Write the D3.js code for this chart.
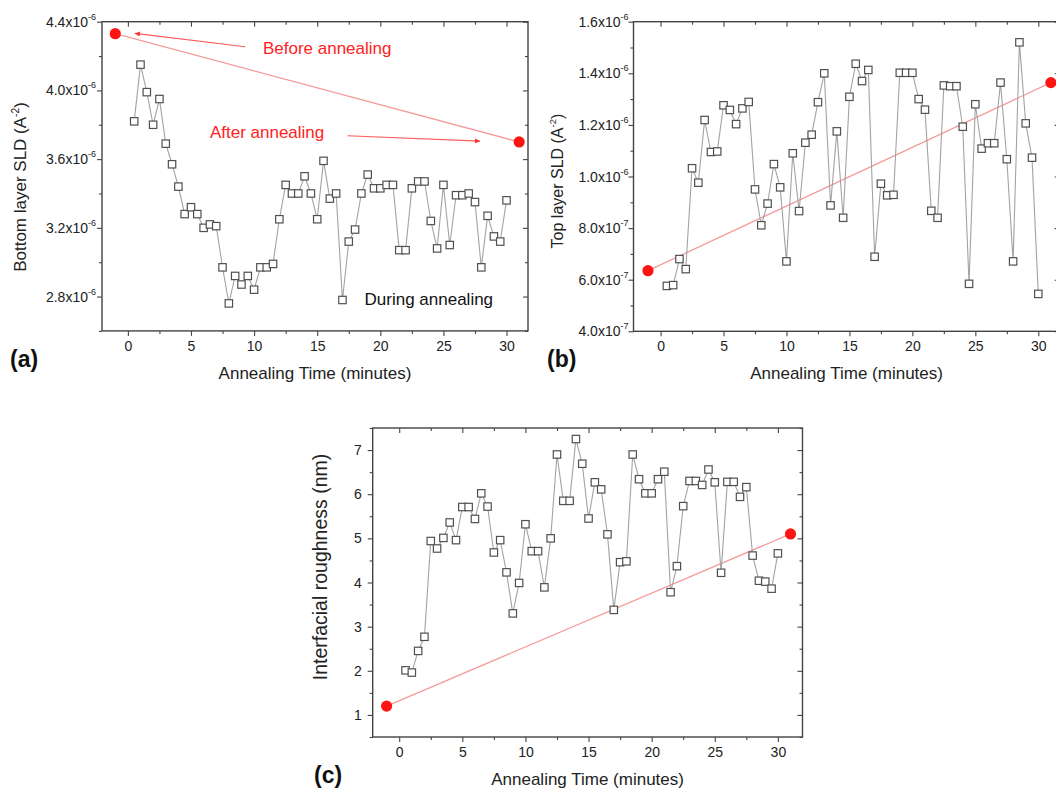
<!DOCTYPE html>
<html><head><meta charset="utf-8">
<script src="https://cdn.jsdelivr.net/npm/d3@7"></script>
<style>
body{margin:0;background:#fff}
svg{display:block}
text{font-family:"Liberation Sans",Arial,Helvetica,sans-serif}
</style>
</head><body>
<svg id="chart" width="1056" height="788"></svg>
<script>
// ---------------- DATA ----------------
const times = [0.5,1,1.5,2,2.5,3,3.5,4,4.5,5,5.5,6,6.5,7,7.5,8,8.5,9,9.5,10,
  10.5,11,11.5,12,12.5,13,13.5,14,14.5,15,15.5,16,16.5,17,17.5,18,18.5,19,19.5,20,
  20.5,21,21.5,22,22.5,23,23.5,24,24.5,25,25.5,26,26.5,27,27.5,28,28.5,29,29.5,30];
const endTimes = [-1, 31]; // before annealing, after annealing

// (a) bottom layer SLD, in units of 1e-6 A^-2
const bottomSLD = [3.82,4.15,3.99,3.80,3.95,3.69,3.57,3.44,3.28,3.32,
  3.28,3.20,3.22,3.21,2.97,2.76,2.92,2.87,2.92,2.84,
  2.97,2.97,2.99,3.25,3.45,3.40,3.40,3.50,3.40,3.25,
  3.59,3.37,3.40,2.78,3.12,3.19,3.40,3.51,3.43,3.43,
  3.45,3.45,3.07,3.07,3.43,3.47,3.47,3.24,3.08,3.45,
  3.10,3.39,3.39,3.40,3.35,2.97,3.27,3.15,3.12,3.36];
const bottomSLDEnds = [4.33, 3.70];

// (b) top layer SLD, in units of 1e-7 A^-2
const topSLD = [5.76,5.79,6.80,6.41,10.32,9.76,12.19,10.95,10.97,12.76,
  12.58,12.03,12.64,12.89,9.50,8.11,8.95,10.48,9.58,6.71,
  10.90,8.66,11.31,11.62,12.88,14.00,8.88,11.75,8.40,13.09,
  14.37,13.70,14.13,6.89,9.72,9.27,9.29,14.02,14.02,14.02,
  13.00,12.59,8.67,8.40,13.53,13.50,13.50,11.93,5.84,12.80,
  11.08,11.29,11.29,13.64,10.67,6.71,15.20,12.06,10.73,5.45];
const topSLDEnds = [6.35, 13.64];

// (c) interfacial roughness, nm
const roughness = [2.01,1.96,2.45,2.77,4.94,4.77,5.01,5.36,4.96,5.71,
  5.71,5.44,6.02,5.72,4.68,4.96,4.23,3.30,3.99,5.32,
  4.71,4.71,3.89,5.00,6.90,5.85,5.85,7.25,6.69,5.45,
  6.27,6.11,5.09,3.38,4.46,4.48,6.90,6.34,6.02,6.02,
  6.34,6.51,3.78,4.37,5.73,6.30,6.30,6.21,6.56,6.27,
  4.22,6.28,6.28,5.94,6.16,4.61,4.04,4.02,3.86,4.66];
const roughnessEnds = [1.2, 5.1];

// ticks
const xTicks = [0,5,10,15,20,25,30];
const xMinor = [2.5,7.5,12.5,17.5,22.5,27.5];
const aYTicks = [2.8,3.2,3.6,4.0,4.4];
const aYMinor = [2.6,3.0,3.4,3.8,4.2];
const aYLabels = ["2.8x10","3.2x10","3.6x10","4.0x10","4.4x10"];
const aYExps = ["-6","-6","-6","-6","-6"];
const bYTicks = [4,6,8,10,12,14,16];
const bYMinor = [5,7,9,11,13,15];
const bYLabels = ["4.0x10","6.0x10","8.0x10","1.0x10","1.2x10","1.4x10","1.6x10"];
const bYExps = ["-7","-7","-7","-6","-6","-6","-6"];
const cYTicks = [1,2,3,4,5,6,7];
const cYMinor = [0.5,1.5,2.5,3.5,4.5,5.5,6.5,7.5];
const cYLabels = ["1","2","3","4","5","6","7"];

// ---------------- DRAW ----------------
const svg = d3.select("#chart");
const AX = "#444";
const PINK = "#f59a9a";
const RED = "#ff1414";

function styleTicks(sel){
  sel.select(".domain").remove();
  sel.selectAll(".tick line").attr("stroke", AX).attr("stroke-width", 1.1);
}

function drawPanel(cfg){
  const b = cfg.box;
  const x = d3.scaleLinear().domain(cfg.xDomain).range([b.l, b.r]);
  const y = d3.scaleLinear().domain(cfg.yDomain).range([b.b, b.t]);
  const g = svg.append("g");

  // bottom axis with labels
  const bot = g.append("g").attr("transform", `translate(0,${b.b})`)
    .call(d3.axisBottom(x).tickValues(xTicks).tickSize(5).tickPadding(5).tickFormat(d3.format("d")));
  styleTicks(bot);
  bot.selectAll("text").attr("font-size", 14).attr("fill", "#222").style("font-family", "Liberation Sans, Arial, sans-serif");
  styleTicks(g.append("g").attr("transform", `translate(0,${b.b})`)
    .call(d3.axisBottom(x).tickValues(xMinor).tickSize(3).tickFormat("")));
  // top mirror (inward)
  styleTicks(g.append("g").attr("transform", `translate(0,${b.t})`)
    .call(d3.axisBottom(x).tickValues(xTicks).tickSize(5).tickFormat("")));
  styleTicks(g.append("g").attr("transform", `translate(0,${b.t})`)
    .call(d3.axisBottom(x).tickValues(xMinor).tickSize(3).tickFormat("")));
  // left
  styleTicks(g.append("g").attr("transform", `translate(${b.l},0)`)
    .call(d3.axisLeft(y).tickValues(cfg.yTicks).tickSize(5).tickFormat("")));
  styleTicks(g.append("g").attr("transform", `translate(${b.l},0)`)
    .call(d3.axisLeft(y).tickValues(cfg.yMinor).tickSize(3).tickFormat("")));
  // right mirror (inward)
  styleTicks(g.append("g").attr("transform", `translate(${b.r},0)`)
    .call(d3.axisLeft(y).tickValues(cfg.yTicks).tickSize(5).tickFormat("")));
  styleTicks(g.append("g").attr("transform", `translate(${b.r},0)`)
    .call(d3.axisLeft(y).tickValues(cfg.yMinor).tickSize(3).tickFormat("")));

  // frame
  g.append("rect").attr("x", b.l).attr("y", b.t).attr("width", b.r - b.l).attr("height", b.b - b.t)
    .attr("fill", "none").attr("stroke", AX).attr("stroke-width", 1.4);

  // y tick labels
  cfg.yTicks.forEach((v, i) => {
    const t = g.append("text").attr("x", b.l - cfg.yLabelGap).attr("y", y(v) + 5)
      .attr("text-anchor", "end").attr("font-size", 14).attr("fill", "#222");
    t.append("tspan").text(cfg.yLabels[i]);
    if (cfg.yExps) t.append("tspan").attr("font-size", 9).attr("dy", -7).text(cfg.yExps[i]);
  });

  // y title
  const yt = g.append("text")
    .attr("transform", `translate(${cfg.yTitlePos[0]},${cfg.yTitlePos[1]}) rotate(-90)`)
    .attr("text-anchor", "middle").attr("font-size", cfg.yTitleSize).attr("fill", "#222");
  yt.append("tspan").text(cfg.yTitle[0]);
  if (cfg.yTitle.length > 1) {
    yt.append("tspan").attr("font-size", cfg.yTitleSize * 0.6).attr("dy", -7).text(cfg.yTitle[1]);
    yt.append("tspan").attr("dy", 7).text(cfg.yTitle[2]);
  }
  // x title
  g.append("text").attr("x", (b.l + b.r) / 2).attr("y", b.b + 48)
    .attr("text-anchor", "middle").attr("font-size", 17).attr("fill", "#222")
    .text("Annealing Time (minutes)");
  // panel label
  g.append("text").attr("x", cfg.labelPos[0]).attr("y", cfg.labelPos[1])
    .attr("font-size", 23).attr("font-weight", "bold").attr("fill", "#111").text(cfg.label);

  // before/after connector
  const endsPts = endTimes.map((t, i) => [t, cfg.ends[i]]);
  g.append("path").datum(endsPts)
    .attr("d", d3.line().x(d => x(d[0])).y(d => y(d[1])))
    .attr("fill", "none").attr("stroke", PINK).attr("stroke-width", 1.3);

  // data line
  const pts = times.map((t, i) => [t, cfg.values[i]]);
  g.append("path").datum(pts)
    .attr("d", d3.line().x(d => x(d[0])).y(d => y(d[1])))
    .attr("fill", "none").attr("stroke", "#a3a3a3").attr("stroke-width", 1.1);
  const s = 7.4;
  g.selectAll("rect.pt").data(pts).join("rect").attr("class", "pt")
    .attr("x", d => x(d[0]) - s / 2).attr("y", d => y(d[1]) - s / 2)
    .attr("width", s).attr("height", s)
    .attr("fill", "#fff").attr("stroke", "#505050").attr("stroke-width", 1.2);

  // end dots
  g.selectAll("circle.end").data(endsPts).join("circle").attr("class", "end")
    .attr("cx", d => x(d[0])).attr("cy", d => y(d[1])).attr("r", 5.6).attr("fill", RED);

  return {g, x, y};
}

// arrow marker
const defs = svg.append("defs");
defs.append("marker").attr("id", "arr").attr("viewBox", "0 0 10 10")
  .attr("refX", 10).attr("refY", 5).attr("markerWidth", 8).attr("markerHeight", 5)
  .attr("markerUnits", "userSpaceOnUse").attr("orient", "auto")
  .append("path").attr("d", "M0,0 L10,5 L0,10 z").attr("fill", "#ff3030");

const A = drawPanel({
  values: bottomSLD, ends: bottomSLDEnds,
  xDomain: [-2.05, 31.7], yDomain: [2.6, 4.4],
  box: {l: 102, r: 528, t: 21.7, b: 330.9},
  yTicks: aYTicks, yMinor: aYMinor, yLabels: aYLabels, yExps: aYExps, yLabelGap: 6,
  yTitle: ["Bottom layer SLD (A", "-2", ")"], yTitleSize: 17, yTitlePos: [26, 187],
  label: "(a)", labelPos: [10, 367]
});
drawPanel({
  values: topSLD, ends: topSLDEnds,
  xDomain: [-2.15, 31.7], yDomain: [4, 16],
  box: {l: 633.5, r: 1059.7, t: 21.7, b: 331.3},
  yTicks: bYTicks, yMinor: bYMinor, yLabels: bYLabels, yExps: bYExps, yLabelGap: 5,
  yTitle: ["Top layer SLD (A", "-2", ")"], yTitleSize: 16, yTitlePos: [563, 181],
  label: "(b)", labelPos: [547, 367]
});
drawPanel({
  values: roughness, ends: roughnessEnds,
  xDomain: [-2.1, 31.95], yDomain: [0.5, 7.5],
  box: {l: 372.7, r: 802.5, t: 428, b: 737},
  yTicks: cYTicks, yMinor: cYMinor, yLabels: cYLabels, yExps: null, yLabelGap: 11,
  yTitle: ["Interfacial roughness (nm)"], yTitleSize: 19.5, yTitlePos: [327, 567],
  label: "(c)", labelPos: [314, 783]
});

// annotations in panel (a), positioned in data space
const annRed = "#ff2222";
const ax = A.x, ay = A.y, ag = A.g;
ag.append("line").attr("x1", ax(9.3)).attr("y1", ay(4.254)).attr("x2", ax(0.55)).attr("y2", ay(4.332))
  .attr("stroke", "#ff5a5a").attr("stroke-width", 1.1).attr("marker-end", "url(#arr)");
ag.append("text").attr("x", ax(10.7)).attr("y", ay(4.212)).attr("font-size", 17).attr("fill", annRed)
  .text("Before annealing");
ag.append("line").attr("x1", ax(17.4)).attr("y1", ay(3.736)).attr("x2", ax(27.9)).attr("y2", ay(3.705))
  .attr("stroke", "#ff5a5a").attr("stroke-width", 1.1).attr("marker-end", "url(#arr)");
ag.append("text").attr("x", ax(6.5)).attr("y", ay(3.723)).attr("font-size", 17).attr("fill", annRed)
  .text("After annealing");
ag.append("text").attr("x", ax(18.75)).attr("y", ay(2.75)).attr("font-size", 17).attr("fill", "#111")
  .text("During annealing");
</script>
</body></html>
